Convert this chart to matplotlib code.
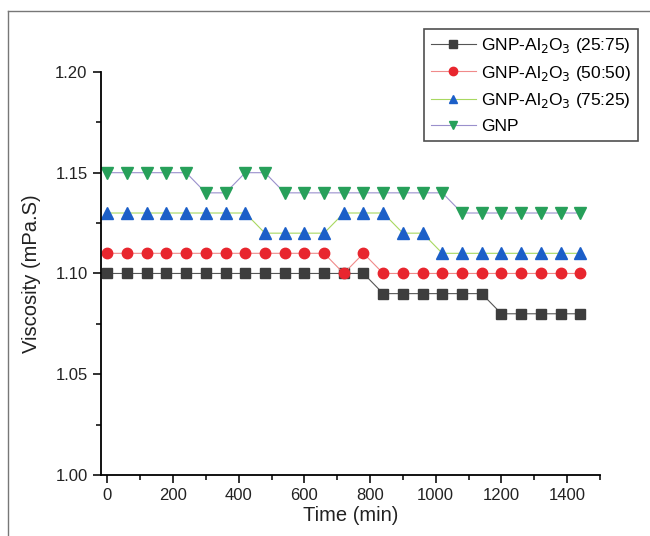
import numpy as np
import matplotlib.pyplot as plt
from matplotlib.lines import Line2D
from matplotlib.ticker import MultipleLocator

plt.rcParams['font.family'] = ['Liberation Sans', 'DejaVu Sans']

# time points (min)
time = list(range(0, 1441, 60))

# viscosity (mPa.S)
visc_25_75 = [1.10] * 14 + [1.09] * 6 + [1.08] * 5
visc_50_50 = [1.11] * 12 + [1.10, 1.11] + [1.10] * 11
visc_75_25 = [1.13] * 8 + [1.12] * 4 + [1.13] * 3 + [1.12] * 2 + [1.11] * 8
visc_gnp = [1.15] * 5 + [1.14] * 2 + [1.15] * 2 + [1.14] * 9 + [1.13] * 7

labels = ['GNP-Al$_2$O$_3$ (25:75)', 'GNP-Al$_2$O$_3$ (50:50)',
          'GNP-Al$_2$O$_3$ (75:25)', 'GNP']

fig = plt.figure(figsize=(6.5, 5.36), dpi=100)
ax = fig.add_axes([0.155, 0.1138, 0.768, 0.752])

ax.plot(time, visc_25_75, color='#555555', lw=0.8, marker='s', ms=6.5,
        mfc='#3d3d3d', mec='#3d3d3d', label=labels[0])
ax.plot(time, visc_50_50, color='#f08a8a', lw=0.8, marker='o', ms=7.5,
        mfc='#e8262e', mec='#e8262e', label=labels[1])
ax.plot(time, visc_75_25, color='#a8d860', lw=0.8, marker='^', ms=8,
        mfc='#1c5fc8', mec='#1c5fc8', label=labels[2])
ax.plot(time, visc_gnp, color='#9a90cc', lw=0.8, marker='v', ms=8,
        mfc='#27a05a', mec='#27a05a', label=labels[3])

ax.set_xlim(-20, 1500)
ax.set_ylim(1.00, 1.20)
ax.xaxis.set_major_locator(MultipleLocator(200))
ax.xaxis.set_minor_locator(MultipleLocator(100))
ax.yaxis.set_major_locator(MultipleLocator(0.05))
ax.yaxis.set_minor_locator(MultipleLocator(0.025))
ax.set_xticks(range(0, 1401, 200))
ax.yaxis.set_major_formatter(plt.FormatStrFormatter('%.2f'))

ax.spines['top'].set_visible(False)
ax.spines['right'].set_visible(False)
for s in ['left', 'bottom']:
    ax.spines[s].set_linewidth(1.3)
ax.tick_params(which='major', direction='out', length=6, width=1.3,
               labelsize=12, colors='#222222')
ax.tick_params(which='minor', direction='out', length=3.5, width=1.1)

ax.set_xlabel('Time (min)', fontsize=14.5, color='#222222', labelpad=2)
ax.set_ylabel('Viscosity (mPa.S)', fontsize=14.5, color='#222222', labelpad=10)

leg = ax.legend(loc='upper right', bbox_to_anchor=(0.9815, 0.946),
                bbox_transform=fig.transFigure, fontsize=12.5,
                frameon=True, fancybox=False, edgecolor='#222222',
                handlelength=2.6, borderpad=0.4, labelspacing=0.5,
                handletextpad=0.3, borderaxespad=0, markerscale=0.8)
leg.get_frame().set_linewidth(1.2)

# thin page frame
fig.add_artist(Line2D([8 / 650, 1], [1 - 11 / 536, 1 - 11 / 536],
                      transform=fig.transFigure, color='#777777', lw=1))
fig.add_artist(Line2D([8 / 650, 8 / 650], [0, 1 - 11 / 536],
                      transform=fig.transFigure, color='#777777', lw=1))

fig.savefig('out.png', dpi=100)
